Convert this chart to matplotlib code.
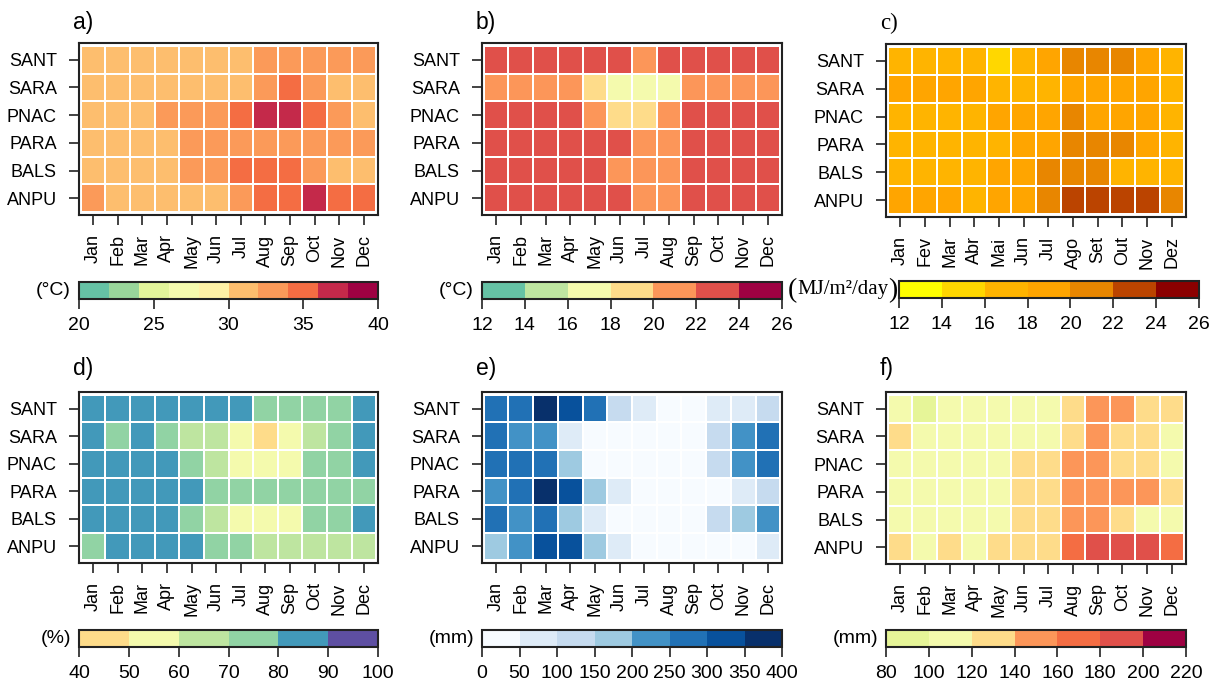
import matplotlib
matplotlib.use('Agg')
import matplotlib.pyplot as plt
import numpy as np
from matplotlib.colors import ListedColormap, BoundaryNorm

plt.rcParams['font.family'] = ['Liberation Sans', 'DejaVu Sans']

stations = ['SANT', 'SARA', 'PNAC', 'PARA', 'BALS', 'ANPU']
months_en = ['Jan', 'Feb', 'Mar', 'Apr', 'May', 'Jun', 'Jul', 'Aug', 'Sep', 'Oct', 'Nov', 'Dec']
months_pt = ['Jan', 'Fev', 'Mar', 'Abr', 'Mai', 'Jun', 'Jul', 'Ago', 'Set', 'Out', 'Nov', 'Dez']

# a) max temperature (°C)
tmax = [
    [31, 31, 31, 31, 31, 31, 31, 33, 33, 33, 33, 33],
    [31, 31, 31, 31, 31, 31, 31, 33, 35, 33, 31, 31],
    [31, 31, 31, 33, 33, 33, 35, 37, 37, 35, 33, 31],
    [31, 31, 31, 31, 33, 33, 33, 33, 33, 33, 33, 33],
    [31, 31, 31, 31, 33, 33, 35, 35, 35, 33, 31, 31],
    [33, 31, 31, 31, 31, 31, 33, 35, 35, 37, 35, 35],
]
# b) min temperature (°C)
tmin = [
    [23, 23, 23, 23, 23, 23, 21, 23, 23, 23, 23, 23],
    [21, 21, 21, 21, 19, 17, 17, 17, 21, 21, 21, 21],
    [23, 23, 23, 23, 21, 19, 19, 21, 23, 23, 23, 23],
    [23, 23, 23, 23, 23, 23, 21, 21, 23, 23, 23, 23],
    [23, 23, 23, 23, 23, 21, 21, 21, 23, 23, 23, 23],
    [23, 23, 23, 23, 23, 23, 21, 21, 23, 23, 23, 23],
]
# c) solar radiation (MJ/m²/day)
rad = [
    [17, 17, 17, 17, 15, 17, 19, 21, 21, 21, 19, 17],
    [19, 19, 19, 19, 17, 17, 17, 19, 19, 19, 19, 17],
    [17, 17, 17, 17, 19, 19, 19, 21, 19, 19, 19, 17],
    [17, 17, 17, 17, 17, 19, 19, 21, 21, 21, 19, 17],
    [17, 17, 17, 17, 19, 19, 21, 21, 21, 17, 17, 17],
    [19, 19, 19, 17, 19, 19, 21, 23, 23, 23, 23, 21],
]
# d) relative humidity (%)
rh = [
    [85, 85, 85, 85, 85, 85, 85, 75, 75, 75, 75, 85],
    [85, 75, 85, 75, 65, 65, 55, 45, 55, 65, 75, 85],
    [85, 85, 85, 85, 75, 65, 55, 55, 55, 75, 75, 85],
    [85, 85, 85, 85, 85, 75, 75, 75, 75, 75, 75, 75],
    [85, 85, 85, 85, 75, 65, 55, 55, 55, 75, 75, 85],
    [75, 85, 85, 85, 85, 75, 75, 65, 65, 65, 65, 65],
]
# e) precipitation (mm)
prec = [
    [275, 275, 375, 325, 275, 125, 75, 25, 25, 75, 75, 125],
    [275, 225, 225, 75, 25, 25, 25, 25, 25, 125, 225, 275],
    [275, 275, 275, 175, 25, 25, 25, 25, 25, 125, 225, 275],
    [225, 275, 375, 325, 175, 75, 25, 25, 25, 25, 75, 125],
    [275, 225, 275, 175, 75, 25, 25, 25, 25, 125, 175, 225],
    [175, 225, 325, 325, 175, 75, 25, 25, 25, 25, 25, 75],
]
# f) evapotranspiration (mm)
evap = [
    [110, 90, 110, 110, 110, 110, 110, 130, 150, 150, 130, 130],
    [130, 110, 110, 110, 110, 110, 110, 130, 150, 130, 130, 110],
    [110, 110, 110, 110, 110, 130, 130, 150, 150, 130, 130, 110],
    [110, 110, 110, 110, 110, 130, 130, 150, 150, 150, 150, 130],
    [110, 110, 110, 110, 110, 130, 130, 150, 150, 130, 110, 110],
    [130, 110, 130, 110, 130, 130, 130, 170, 190, 190, 190, 170],
]

cols_a = ['#66C2A5', '#99D59A', '#E2F49A', '#F4FAAE', '#FEF1A6',
          '#FDBE6E', '#FB9A59', '#F46D43', '#C4294A', '#9E0142']
cols_b = ['#66C2A5', '#BEE5A0', '#F4FAAD', '#FEDC8A', '#FC9659', '#E0504A', '#9E0142']
cols_c = ['#FFFF00', '#FFD700', '#FFB400', '#FFA500', '#E88600', '#BB4400', '#8B0000']
cols_d = ['#FEDC8A', '#F4FAAD', '#BEE5A0', '#91D3A4', '#4299BA', '#5E4FA2']
cols_e = ['#F7FBFF', '#DEEBF7', '#C6DBEF', '#9ECAE1', '#4292C6', '#2171B5', '#08519C', '#08306B']
cols_f = ['#E6F598', '#F4FAAD', '#FEDC8A', '#FC9659', '#F46D43', '#E0504A', '#9E0142']

serif = ['Liberation Serif', 'DejaVu Serif']

W, H = 1217, 688
fig = plt.figure(figsize=(W / 100, H / 100), dpi=100)


def box(x0, y0, x1, y1):
    return [x0 / W, 1 - y1 / H, (x1 - x0) / W, (y1 - y0) / H]


def panel(ax_px, cb_px, data, cols, bounds, ticks, months, letter, unit,
          letter_font=None, unit_font=None):
    ax = fig.add_axes(box(*ax_px))
    cmap = ListedColormap(cols)
    norm = BoundaryNorm(bounds, cmap.N)
    arr = np.array(data)
    mesh = ax.pcolormesh(np.arange(13) - 0.5, np.arange(7) - 0.5, arr,
                         cmap=cmap, norm=norm, edgecolors='white', linewidth=1.2)
    ax.set_xlim(-0.57, 11.57)
    ax.set_ylim(5.6, -0.6)
    ax.set_xticks(range(12))
    ax.set_xticklabels(months, rotation=90, fontsize=13)
    ax.set_yticks(range(6))
    ax.set_yticklabels(stations, fontsize=13)
    ax.tick_params(axis='x', length=7, width=1.2, pad=7, color='#222222')
    ax.tick_params(axis='y', length=7, width=1.2, pad=9, color='#222222')
    for s in ax.spines.values():
        s.set_linewidth(1.5)
        s.set_color('#222222')
    ly = 23 if ax_px[1] < 100 else 369
    ax.text((ax_px[0] - 6) / W, 1 - ly / H, letter,
            transform=fig.transFigure, fontsize=16.5, ha='left', va='center',
            family=letter_font)

    cax = fig.add_axes(box(*cb_px))
    cb = fig.colorbar(mesh, cax=cax, orientation='horizontal', ticks=ticks)
    cb.outline.set_linewidth(1.5)
    cb.outline.set_edgecolor('#222222')
    cax.minorticks_off()
    cax.tick_params(length=7, width=1.2, pad=6, labelsize=14, color='#222222')
    cax.set_xticklabels([str(t) for t in ticks])
    cy = (cb_px[1] + cb_px[3]) / 2
    if unit_font is None:
        fig.text((cb_px[0] - 8) / W, 1 - cy / H, unit, ha='right', va='center',
                 fontsize=14)
    else:
        # serif unit label with tall parentheses
        fig.text((cb_px[0] - 2) / W, 1 - (cy + 1) / H, ')', ha='right', va='center',
                 fontsize=20, family=unit_font)
        t = fig.text((cb_px[0] - 10) / W, 1 - cy / H, unit, ha='right', va='center',
                     fontsize=15, family=unit_font)
        ext = t.get_window_extent(renderer=fig.canvas.get_renderer())
        fig.text((ext.x0 - 1) / W, 1 - (cy + 1) / H, '(', ha='right', va='center',
                 fontsize=20, family=unit_font)
    return ax


panel((79, 43, 378, 215), (79, 282, 378, 299), tmax, cols_a,
      np.arange(20, 41, 2), [20, 25, 30, 35, 40], months_en, 'a)', '(°C)')
panel((482, 43, 782, 215), (482, 282, 782, 299), tmin, cols_b,
      np.arange(12, 27, 2), list(range(12, 27, 2)), months_en, 'b)', '(°C)')
panel((886, 44, 1186, 217), (899, 281, 1199, 298), rad, cols_c,
      np.arange(12, 27, 2), list(range(12, 27, 2)), months_pt, 'c)', 'MJ/m²/day',
      letter_font=serif, unit_font=serif)
panel((79, 392, 378, 563), (79, 630, 378, 647), rh, cols_d,
      np.arange(40, 101, 10), list(range(40, 101, 10)), months_en, 'd)', '(%)')
panel((482, 392, 782, 563), (482, 630, 782, 647), prec, cols_e,
      np.arange(0, 401, 50), list(range(0, 401, 50)), months_en, 'e)', '(mm)')
panel((886, 392, 1186, 564), (886, 630, 1186, 647), evap, cols_f,
      np.arange(80, 221, 20), list(range(80, 221, 20)), months_en, 'f)', '(mm)')

fig.savefig('out.png', dpi=100)
